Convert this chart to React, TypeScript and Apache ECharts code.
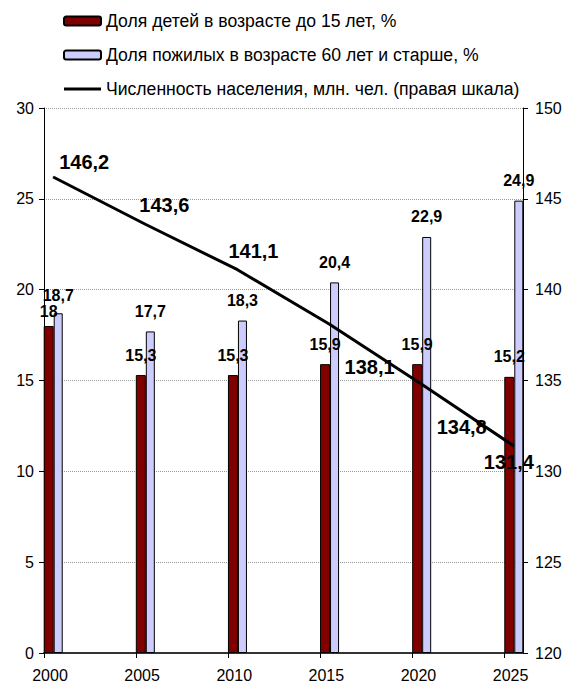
import React, { useEffect, useRef } from "react";
import * as echarts from "echarts";

// Population structure of Russia, 2000–2025
const years = [2000, 2005, 2010, 2015, 2020, 2025];
const childrenShare = [18, 15.3, 15.3, 15.9, 15.9, 15.2];
const elderlyShare = [18.7, 17.7, 18.3, 20.4, 22.9, 24.9];
const population = [146.2, 143.6, 141.1, 138.1, 134.8, 131.4];

const seriesNames = [
  "Доля детей в возрасте до 15 лет, %",
  "Доля пожилых в возрасте 60 лет и старше, %",
  "Численность населения, млн. чел. (правая шкала)",
];

const shareAxisTicks = [0, 5, 10, 15, 20, 25, 30];
const populationAxisTicks = [120, 125, 130, 135, 140, 145, 150];

// where each population label sits relative to its point (px)
const populationLabelOffsets = [
  [31, -15],
  [19, -19],
  [16, -19],
  [40, 43],
  [40, 43],
  [-5, 16],
];
// gap between a bar top and its value label (px); the 2000 pair is packed tighter
const childrenLabelDistances = [7, 12, 12, 12, 12, 12];
const elderlyLabelDistances = [10, 12, 12, 12, 12, 12];

const FONT = '"Liberation Sans", Arial, Helvetica, sans-serif';
// each year's pair of bars starts at the year's tick; the group centre is half a year later
const GROUP_CENTER = 0.5;

const comma = (v: number) => String(v).replace(".", ",");

export default function App() {
  const ref = useRef<HTMLDivElement>(null);

  useEffect(() => {
    if (!ref.current) return;
    const chart = echarts.init(ref.current, null, { renderer: "svg" });

    const barLabel = {
      show: true,
      position: "top",
      fontSize: 16,
      fontWeight: "bold",
      color: "#000",
      fontFamily: FONT,
      formatter: (p: any) => comma(p.value[1]),
    };

    const barData = (values: number[], distances: number[]) =>
      years.map((y, i) => ({
        value: [y + GROUP_CENTER, values[i]],
        label: { distance: distances[i] },
      }));

    const option: any = {
      animation: false,
      backgroundColor: "#fff",
      textStyle: { fontFamily: FONT, color: "#000" },
      legend: {
        orient: "vertical",
        left: 58,
        top: 7,
        itemWidth: 37,
        itemHeight: 9,
        itemGap: 16,
        selectedMode: false,
        textStyle: { fontSize: 17.6, color: "#000", fontFamily: FONT },
        data: [
          { name: seriesNames[0] },
          { name: seriesNames[1] },
          { name: seriesNames[2], icon: "path://M0,0H40V3H0Z" },
        ],
      },
      grid: { left: 44, right: 43, top: 108, bottom: 33 },
      xAxis: {
        type: "value",
        min: years[0],
        max: years[years.length - 1] + 1,
        axisLine: { show: true, onZero: false, lineStyle: { color: "#333", width: 2 } },
        axisTick: { show: true, length: 5, customValues: years, lineStyle: { color: "#000" } },
        axisLabel: {
          customValues: years,
          fontSize: 16,
          color: "#000",
          margin: 14,
          padding: [0, 0, 0, 12],
          formatter: (v: number) => String(v),
        },
        splitLine: { show: false },
      },
      yAxis: [
        {
          type: "value",
          position: "left",
          min: shareAxisTicks[0],
          max: shareAxisTicks[shareAxisTicks.length - 1],
          interval: 5,
          axisLine: { show: true, onZero: false, lineStyle: { color: "#000", width: 1 } },
          axisTick: { show: true, length: 5, lineStyle: { color: "#000" } },
          axisLabel: { fontSize: 16, color: "#000", margin: 10 },
          splitLine: { show: true, lineStyle: { color: "#999", type: "dotted", width: 1 } },
        },
        {
          type: "value",
          position: "right",
          min: populationAxisTicks[0],
          max: populationAxisTicks[populationAxisTicks.length - 1],
          interval: 5,
          axisLine: { show: true, onZero: false, lineStyle: { color: "#000", width: 1 } },
          axisTick: { show: true, length: 5, lineStyle: { color: "#000" } },
          axisLabel: { fontSize: 16, color: "#000", margin: 12 },
          splitLine: { show: false },
        },
      ],
      series: [
        {
          name: seriesNames[0],
          type: "bar",
          barWidth: 10,
          barGap: "0%",
          data: barData(childrenShare, childrenLabelDistances),
          itemStyle: { color: "#800000", borderColor: "#000", borderWidth: 1 },
          label: barLabel,
        },
        {
          name: seriesNames[1],
          type: "bar",
          barWidth: 9,
          barGap: "0%",
          data: barData(elderlyShare, elderlyLabelDistances),
          itemStyle: { color: "#CCCCFF", borderColor: "#000", borderWidth: 1 },
          label: barLabel,
        },
        {
          name: seriesNames[2],
          type: "line",
          yAxisIndex: 1,
          z: 5,
          symbol: "circle",
          symbolSize: 1,
          itemStyle: { color: "#000" },
          lineStyle: { color: "#000", width: 3 },
          data: years.map((y, i) => ({
            value: [y + GROUP_CENTER, population[i]],
            label: { offset: populationLabelOffsets[i] },
          })),
          label: {
            show: true,
            position: "inside",
            fontSize: 20,
            fontWeight: "bold",
            color: "#000",
            fontFamily: FONT,
            formatter: (p: any) => comma(p.value[1]),
          },
        },
      ],
    };

    chart.setOption(option);
    return () => chart.dispose();
  }, []);

  return (
    <div
      ref={ref}
      style={{ position: "absolute", left: 0, top: 0, width: 566, height: 686 }}
    />
  );
}
